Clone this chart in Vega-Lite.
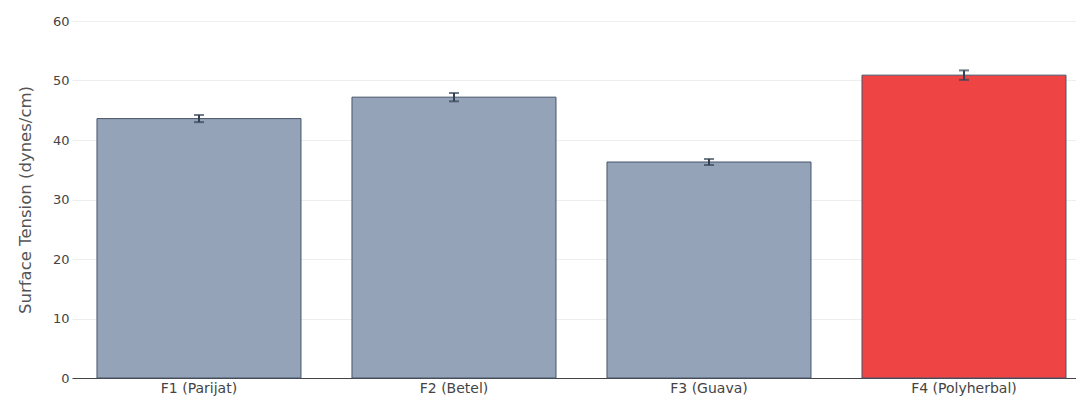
{
  "$schema": "https://vega.github.io/schema/vega-lite/v6.json",
  "width": 1004,
  "height": 357,
  "autosize": {"type": "none"},
  "padding": {"left": 72, "top": 21, "right": 0, "bottom": 18},
  "background": "white",
  "data": {
    "values": [
      {"formulation": "F1 (Parijat)", "tension": 43.6, "sd": 0.6},
      {"formulation": "F2 (Betel)", "tension": 47.2, "sd": 0.7},
      {"formulation": "F3 (Guava)", "tension": 36.3, "sd": 0.5},
      {"formulation": "F4 (Polyherbal)", "tension": 50.9, "sd": 0.8}
    ]
  },
  "encoding": {
    "x": {
      "field": "formulation",
      "type": "nominal",
      "sort": null,
      "title": null,
      "scale": {"type": "band", "paddingInner": 0.2, "paddingOuter": 0.0686, "align": 0.714},
      "axis": {
        "labelAngle": 0,
        "ticks": false,
        "domain": true,
        "domainColor": "#444444",
        "domainWidth": 1,
        "grid": false,
        "labelPadding": 3,
        "labelFont": "DejaVu Sans",
        "labelFontSize": 14,
        "labelColor": "#444444"
      }
    }
  },
  "layer": [
    {
      "mark": {"type": "bar", "stroke": "#475569", "strokeWidth": 1},
      "encoding": {
        "y": {
          "field": "tension",
          "type": "quantitative",
          "title": "Surface Tension (dynes/cm)",
          "scale": {"domain": [0, 60], "nice": false},
          "axis": {
            "values": [0, 10, 20, 30, 40, 50, 60],
            "domain": false,
            "ticks": false,
            "grid": true,
            "gridColor": "#eeeeee",
            "gridWidth": 1,
            "labelPadding": 3,
            "labelFont": "DejaVu Sans",
            "labelFontSize": 13,
            "labelColor": "#444444",
            "titleFont": "DejaVu Sans",
            "titleFontSize": 16.5,
            "titleFontWeight": "normal",
            "titleColor": "#555555",
            "titlePadding": 19
          }
        },
        "color": {
          "field": "formulation",
          "type": "nominal",
          "sort": null,
          "legend": null,
          "scale": {
            "domain": ["F1 (Parijat)", "F2 (Betel)", "F3 (Guava)", "F4 (Polyherbal)"],
            "range": ["#94a3b8", "#94a3b8", "#94a3b8", "#ef4444"]
          }
        }
      }
    },
    {
      "mark": {
        "type": "errorbar",
        "color": "#334155",
        "thickness": 2,
        "ticks": {"size": 10, "thickness": 2, "color": "#334155"}
      },
      "encoding": {
        "y": {"field": "tension", "type": "quantitative", "title": "Surface Tension (dynes/cm)"},
        "yError": {"field": "sd"}
      }
    }
  ],
  "config": {
    "view": {"stroke": null}
  }
}
